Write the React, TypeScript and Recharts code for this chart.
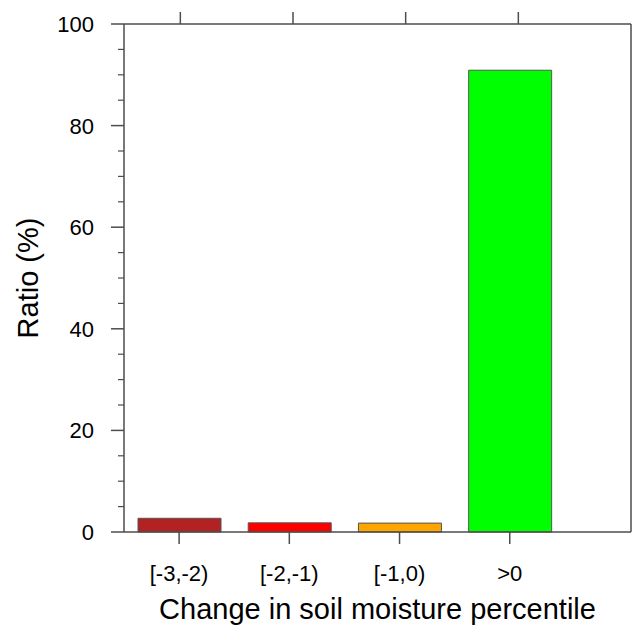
import React from "react";
import { BarChart, Bar, XAxis, YAxis, Cell, Label } from "recharts";

const categories = ["[-3,-2)", "[-2,-1)", "[-1,0)", ">0"];
const positions = [1, 2, 3, 4];
const ratios = [2.7, 1.8, 1.75, 90.9];
const barColors = ["#B22222", "#FF0000", "#FFA500", "#00FF00"];
const majorYTicks = [0, 20, 40, 60, 80, 100];
const allYTicks = [0, 5, 10, 15, 20, 25, 30, 35, 40, 45, 50, 55, 60, 65, 70, 75, 80, 85, 90, 95, 100];

const data = positions.map((p, i) => ({ pos: p, name: categories[i], value: ratios[i] }));

const FONT = "'Liberation Sans', Arial, Helvetica, sans-serif";
const AXIS = "#4d4d4d";
const TICK_FONT = 22;

const EmptyTick = () => <g />;

const LeftTick = (props: any) => {
  const { x, y, payload } = props;
  const v = payload.value;
  const major = majorYTicks.includes(v);
  const len = major ? 13 : 6;
  return (
    <g>
      <line x1={x - len} x2={x} y1={y} y2={y} stroke={AXIS} strokeWidth={major ? 1.5 : 1.2} />
      {major && (
        <text
          x={x - 30}
          y={y}
          dy="0.36em"
          textAnchor="end"
          fontSize={TICK_FONT}
          fontFamily={FONT}
          fill="#000"
        >
          {v}
        </text>
      )}
    </g>
  );
};

const RightTick = (props: any) => {
  const { x, y, payload } = props;
  const major = majorYTicks.includes(payload.value);
  const len = major ? 13 : 6;
  return <line x1={x} x2={x + len} y1={y} y2={y} stroke={AXIS} strokeWidth={major ? 1.5 : 1.2} />;
};

export default function App() {
  return (
    <div style={{ position: "absolute", left: 0, top: 0, width: 635, height: 628, background: "#fff" }}>
      <BarChart
        width={635}
        height={628}
        data={data}
        margin={{ top: 0, right: 0, bottom: 0, left: 0 }}
        style={{ fontFamily: FONT, overflow: "hidden" }}
      >
        <XAxis
          xAxisId="bottom"
          dataKey="pos"
          type="number"
          domain={[0.5, 5.1]}
          ticks={positions}
          tickFormatter={(v: number) => categories[positions.indexOf(v)] ?? ""}
          interval={0}
          height={96}
          tickSize={12}
          tickMargin={21}
          axisLine={{ stroke: AXIS, strokeWidth: 1.5 }}
          tickLine={{ stroke: AXIS, strokeWidth: 1.5 }}
          tick={{ fill: "#000", fontSize: TICK_FONT, fontFamily: FONT }}
        >
          <Label
            content={(props: any) => {
              const vb = props.viewBox || {};
              return (
                <text
                  x={vb.x + vb.width / 2}
                  y={619}
                  textAnchor="middle"
                  fontSize={29}
                  fontFamily={FONT}
                  fill="#000"
                >
                  Change in soil moisture percentile
                </text>
              );
            }}
          />
        </XAxis>
        <XAxis
          xAxisId="top"
          dataKey="pos"
          type="number"
          orientation="top"
          domain={[0.5, 5.0]}
          ticks={positions}
          interval={0}
          height={24}
          tickSize={12}
          tick={EmptyTick}
          axisLine={{ stroke: AXIS, strokeWidth: 1.5 }}
          tickLine={{ stroke: AXIS, strokeWidth: 1.5 }}
        />
        <YAxis
          yAxisId="left"
          type="number"
          domain={[0, 100]}
          ticks={allYTicks}
          interval={0}
          width={124}
          tickSize={0}
          tickMargin={0}
          axisLine={{ stroke: AXIS, strokeWidth: 1.5 }}
          tickLine={false}
          tick={LeftTick}
        >
          <Label
            content={(props: any) => {
              const vb = props.viewBox || {};
              const cy = vb.y + vb.height / 2;
              return (
                <text
                  x={38}
                  y={cy}
                  transform={`rotate(-90, 38, ${cy})`}
                  textAnchor="middle"
                  fontSize={29}
                  fontFamily={FONT}
                  fill="#000"
                >
                  Ratio (%)
                </text>
              );
            }}
          />
        </YAxis>
        <YAxis
          yAxisId="right"
          orientation="right"
          type="number"
          domain={[0, 100]}
          ticks={allYTicks}
          interval={0}
          width={4}
          tickSize={0}
          tickMargin={0}
          tick={RightTick}
          axisLine={{ stroke: AXIS, strokeWidth: 1.5 }}
          tickLine={false}
        />
        <Bar
          xAxisId="bottom"
          yAxisId="left"
          dataKey="value"
          barSize={83}
          stroke="#555"
          strokeWidth={1}
          isAnimationActive={false}
        >
          {data.map((d, i) => (
            <Cell key={d.name} fill={barColors[i]} />
          ))}
        </Bar>
      </BarChart>
    </div>
  );
}
